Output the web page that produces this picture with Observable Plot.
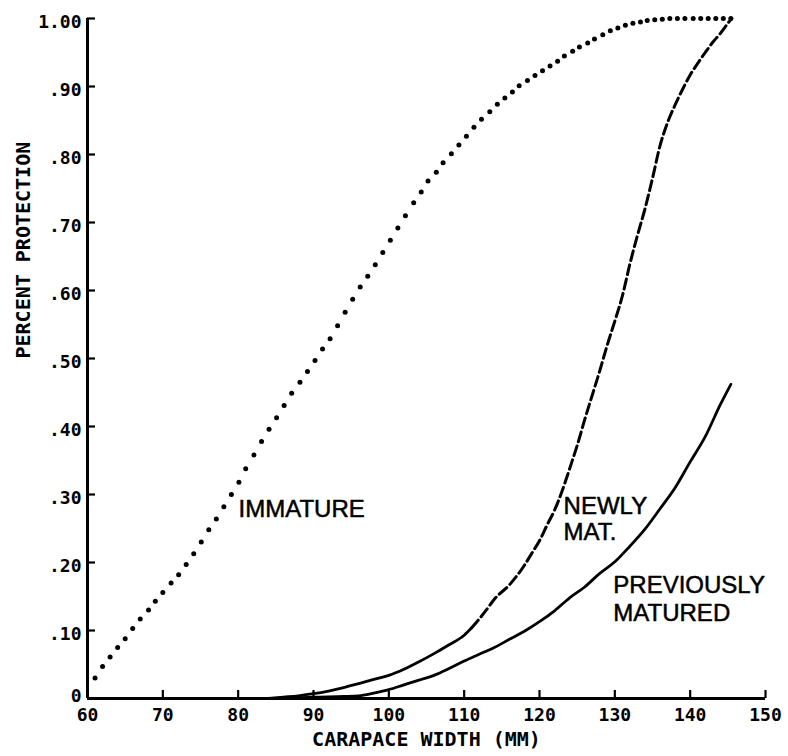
<!DOCTYPE html>
<html>
<head>
<meta charset="utf-8">
<script src="https://cdn.jsdelivr.net/npm/d3@7"></script>
<script src="https://cdn.jsdelivr.net/npm/@observablehq/plot@0.6"></script>
<style>
  html, body { margin: 0; padding: 0; background: white; }
  #chart { width: 788px; height: 756px; }
</style>
</head>
<body>
<div id="chart"></div>
<script>
// ---- data ----
const xTicks = [60, 70, 80, 90, 100, 110, 120, 130, 140, 150];
const yTicks = [0, 0.1, 0.2, 0.3, 0.4, 0.5, 0.6, 0.7, 0.8, 0.9, 1.0];

// IMMATURE (dotted, one dot per mm)
const immatureWidth = [61.0,62.0,63.0,64.0,65.0,66.0,67.0,68.1,69.0,70.0,71.1,72.1,73.1,74.1,75.1,76.1,77.1,78.1,79.1,80.1,
  81.0,82.1,83.1,84.1,85.1,86.1,87.1,88.2,89.2,90.2,91.2,92.2,93.2,94.2,95.2,96.2,97.2,98.2,99.2,100.2,
  101.2,102.2,103.3,104.3,105.2,106.3,107.2,108.3,109.3,110.3,111.3,112.3,113.4,114.4,115.4,116.4,117.3,118.4,119.4,120.4,
  121.4,122.4,123.3,124.4,125.3,126.4,127.3,128.4,129.4,130.4,131.4,132.4,133.4,134.3,135.3,136.3,137.3,138.3,139.3,140.4,
  141.4,142.4,143.4,144.4,145.4];
const immatureValue = [0.030,0.047,0.061,0.075,0.088,0.103,0.117,0.130,0.143,0.156,0.170,0.182,0.197,0.213,0.230,0.248,0.264,0.282,0.300,0.318,
  0.338,0.358,0.378,0.396,0.413,0.431,0.449,0.465,0.481,0.497,0.514,0.529,0.548,0.568,0.587,0.605,0.621,0.638,0.656,0.674,
  0.692,0.710,0.729,0.745,0.761,0.774,0.788,0.801,0.814,0.827,0.840,0.852,0.863,0.874,0.883,0.892,0.901,0.909,0.916,0.923,
  0.930,0.937,0.945,0.952,0.958,0.964,0.970,0.976,0.982,0.986,0.990,0.993,0.995,0.997,0.998,0.999,1.000,1.000,1.000,1.000,
  1.000,1.000,1.000,1.000,1.000];

// NEWLY MAT. (dashed above ~111 mm)
const newlyWidth = [84,86,88,90,92,94,96,98,100,102,104,106,108,110,111,112,113,114,116,118,119,120,121,122,123,124,125,
  126,127,128,129,130,131,132,133,134,135,136,137,138,139,140,141,142,143,144,145,145.5];
const newlyValue = [0.000,0.002,0.004,0.007,0.011,0.016,0.022,0.028,0.034,0.043,0.054,0.066,0.079,0.093,0.104,0.117,0.131,0.146,0.167,0.196,0.214,0.232,0.255,0.277,0.305,0.338,0.372,
  0.410,0.446,0.482,0.520,0.555,0.592,0.639,0.681,0.720,0.765,0.813,0.847,0.873,0.896,0.917,0.934,0.950,0.965,0.978,0.993,1.000];
const newlyDashFrom = 111;

// PREVIOUSLY MATURED (solid)
const prevWidth = [86,90,94,96,98,100,102,104,106,108,110,112,114,116,118,120,122,124,126,128,130,132,134,136,138,140,142,144,145.4];
const prevValue = [0.000,0.002,0.003,0.004,0.008,0.013,0.020,0.027,0.034,0.044,0.055,0.065,0.075,0.087,0.099,0.113,0.129,0.148,0.164,0.184,0.201,0.224,0.249,0.279,0.310,0.348,0.385,0.432,0.462];

// curve labels
const labelText = ["IMMATURE", "NEWLY\nMAT.", "PREVIOUSLY\nMATURED"];
const labelX = [80.05, 123.2, 129.8];
const labelY = [0.278, 0.264, 0.148];

// ---- build tables ----
const immature = immatureWidth.map((w, i) => ({w, v: immatureValue[i]}));
const newly = newlyWidth.map((w, i) => ({w, v: newlyValue[i]}));
const prev = prevWidth.map((w, i) => ({w, v: prevValue[i]}));
const labels = labelText.map((t, i) => ({t, x: labelX[i], y: labelY[i]}));

const W = 788, H = 756;
const mL = 87, mR = 23, mT = 18, mB = 58;
const plotH = H - mT - mB, plotW = W - mL - mR;
const tickLen = 8;
const axisFont = "DejaVu Sans Mono";
const yFmt = d => d === 0 ? "0" : d === 1 ? "1.00" : d.toFixed(2).slice(1);
const labelStyle = {textAnchor: "start", fontSize: 24, fontFamily: "Liberation Sans", fill: "black", stroke: "black", strokeWidth: 0.5};

const chart = Plot.plot({
  width: W, height: H,
  marginLeft: mL, marginRight: mR, marginTop: mT, marginBottom: mB,
  x: {domain: [60, 150]},
  y: {domain: [0, 1]},
  style: {background: "white", color: "black", overflow: "visible"},
  marks: [
    Plot.axisX(xTicks, {tickSize: 0, tickPadding: 10, fontSize: 18, fontWeight: "bold", fontFamily: axisFont, label: null}),
    Plot.axisY(yTicks.filter(d => d > 0), {tickSize: 0, tickPadding: 6, tickFormat: yFmt, fontSize: 18, fontWeight: "bold", fontFamily: axisFont, dy: 4, label: null}),
    Plot.axisY([0], {tickSize: 0, tickPadding: 6, tickFormat: yFmt, fontSize: 18, fontWeight: "bold", fontFamily: axisFont, dy: -2, label: null}),
    Plot.tickX(xTicks, {x: d => d, insetTop: plotH - tickLen, stroke: "black", strokeWidth: 2.2}),
    Plot.tickY(yTicks, {y: d => d, insetRight: plotW - tickLen, stroke: "black", strokeWidth: 2.2}),
    Plot.ruleY([0], {stroke: "black", strokeWidth: 3}),
    Plot.ruleX([60], {stroke: "black", strokeWidth: 3}),
    Plot.text(["CARAPACE WIDTH (MM)"], {frameAnchor: "bottom", dy: 47, fontSize: 20, fontWeight: "bold", fontFamily: axisFont}),
    Plot.text(["PERCENT PROTECTION"], {frameAnchor: "left", rotate: -90, dx: -64, fontSize: 20, fontWeight: "bold", fontFamily: axisFont}),
    // curves
    Plot.line(prev, {x: "w", y: "v", curve: "monotone-x", stroke: "black", strokeWidth: 2.8}),
    Plot.line(newly.filter(d => d.w <= newlyDashFrom), {x: "w", y: "v", curve: "monotone-x", stroke: "black", strokeWidth: 2.8}),
    Plot.line(newly.filter(d => d.w >= newlyDashFrom), {x: "w", y: "v", curve: "monotone-x", stroke: "black", strokeWidth: 3, strokeDasharray: "10,4.5"}),
    Plot.dot(immature, {x: "w", y: "v", r: 2.5, fill: "black", stroke: "none"}),
    // labels
    Plot.text(labels.slice(0, 1), {x: "x", y: "y", text: "t", ...labelStyle}),
    Plot.text(labels.slice(1, 2), {x: "x", y: "y", text: "t", lineHeight: 1.09, ...labelStyle}),
    Plot.text(labels.slice(2, 3), {x: "x", y: "y", text: "t", lineHeight: 1.19, ...labelStyle})
  ]
});
document.getElementById("chart").appendChild(chart);
</script>
</body>
</html>
